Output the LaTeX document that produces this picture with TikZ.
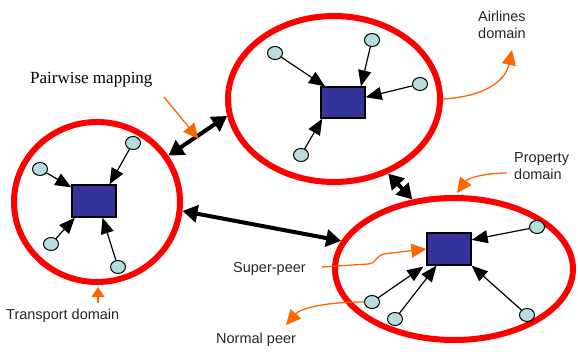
\documentclass[tikz,border=0pt]{standalone}
\usepackage{fontspec}
\setmainfont{Liberation Serif}
\setsansfont{Liberation Sans}
\usetikzlibrary{shapes.geometric,arrows.meta}
\definecolor{domainred}{RGB}{255,0,0}
\definecolor{peerblue}{RGB}{51,51,153}
\definecolor{peercyan}{RGB}{182,222,224}
\definecolor{noteorange}{RGB}{255,102,0}
\tikzset{
  domainring/.style={ellipse, draw=domainred, line width=6pt, inner sep=0pt},
  superpeer/.style={rectangle, draw=black, fill=peerblue, line width=1.3pt,
    minimum width=44pt, minimum height=32pt, inner sep=0pt},
  normalpeer/.style={ellipse, draw=black, fill=peercyan, line width=1pt,
    minimum width=15pt, minimum height=13pt, inner sep=0pt},
  peerlink/.style={line width=1.2pt, -{Triangle[length=16pt,width=13pt]}},
  mappinglink/.style={line width=4pt,
    {Triangle[length=15pt,width=17pt]}-{Triangle[length=15pt,width=17pt]}},
  callout/.style={draw=noteorange, line width=1.3pt,
    -{Triangle[length=15pt,width=14pt,fill=noteorange]}},
  labeltext/.style={font=\sffamily\fontsize{14.5}{16.5}\selectfont, inner sep=0pt,
    text=black!85},
}
\begin{document}
\begin{tikzpicture}[x=1pt,y=-1pt]
\useasboundingbox (0,0) rectangle (578,352);

% domains
\node[domainring, minimum width=166pt, minimum height=160pt] (L) at (97,202) {};
\node[domainring, minimum width=212pt, minimum height=166pt] (T) at (334,99) {};
\node[domainring, minimum width=238pt, minimum height=142pt] (B) at (454,269) {};

% super-peers
\node[superpeer] (sl) at (94,201) {};
\node[superpeer, minimum height=31pt] (st) at (343,102.5) {};
\node[superpeer] (sb) at (449,249) {};

% normal peers, transport domain
\node[normalpeer] (l1) at (40,169) {};
\node[normalpeer] (l2) at (133,143) {};
\node[normalpeer] (l3) at (51,244) {};
\node[normalpeer] (l4) at (118,267) {};
% normal peers, airlines domain
\node[normalpeer] (t1) at (275,53) {};
\node[normalpeer] (t2) at (372,40) {};
\node[normalpeer] (t3) at (420,84) {};
\node[normalpeer] (t4) at (301,155) {};
% normal peers, property domain
\node[normalpeer] (b1) at (537,227) {};
\node[normalpeer] (b2) at (372,302) {};
\node[normalpeer] (b3) at (395,319) {};
\node[normalpeer] (b4) at (527,315) {};

% peer to super-peer links
\draw[peerlink] (l1) -- (sl.149);
\draw[peerlink] (l2) -- (sl.47);
\draw[peerlink] (l3) -- (sl.221.6);
\draw[peerlink] (l4) -- (sl.-63.4);
\draw[peerlink] (t1) -- (st.138.8);
\draw[peerlink] (t2) -- (st.42.4);
\draw[peerlink] (t3) -- (st.13.4);
\draw[peerlink] (t4) -- (st.218);
\draw[peerlink] (b1) -- (sb.22.6);
\draw[peerlink] (b2) -- ([xshift=-3pt,yshift=-1pt]sb.south west);
\draw[peerlink] (b3) -- (sb.233.6);
\draw[peerlink] (b4) -- (sb.south east);

% pairwise mappings between domains
\draw[mappinglink] (L.33) -- coordinate[pos=0.5] (pm) (T.189.6);
\draw[mappinglink] (L.-6) -- (B.166.8);
\draw[mappinglink] (T.-54.5) -- (B.121.8);

% labels
\node[font=\fontsize{17}{19}\selectfont, inner sep=0pt, anchor=base west]
  (pmtext) at (30,84) {Pairwise mapping};
\node[labeltext, anchor=north west, align=left] (air) at (478,11) {Airlines\\domain};
\node[labeltext, anchor=north west, align=left] (prop) at (514,152.5) {Property\\domain};
\node[labeltext, anchor=base west] (sp) at (233,272.5) {Super-peer};
\node[labeltext, anchor=base west] (np) at (216,343.5) {Normal peer};
\node[labeltext, anchor=base west] (tr) at (6,320) {Transport domain};

% callout arrows
\coordinate (pmtail) at (164,97);
\draw[callout] (pmtail) -- ([xshift=0.5pt,yshift=-3pt]pm);
\coordinate (airtip) at (512,50);
\draw[callout] (T.east) .. controls (490,96) and (506,78) .. (airtip);
\coordinate (proptail) at (507,173);
\draw[callout] (proptail) .. controls (485,173) and (468,178) .. (457,193);
\coordinate (sptail) at (322,267);
\draw[callout] (sptail) -- (368,264) .. controls (378,263) and (374,255) .. (387,253.5)
  -- (sb.west);
\draw[callout] (b2.west) .. controls (322,302) and (300,309) .. (286,325);
\coordinate (trtail) at (98,303);
\draw[draw=noteorange, line width=1.3pt,
  -{Triangle[length=10pt,width=13pt,fill=noteorange]}] (trtail) -- (98,287);
\end{tikzpicture}
\end{document}
